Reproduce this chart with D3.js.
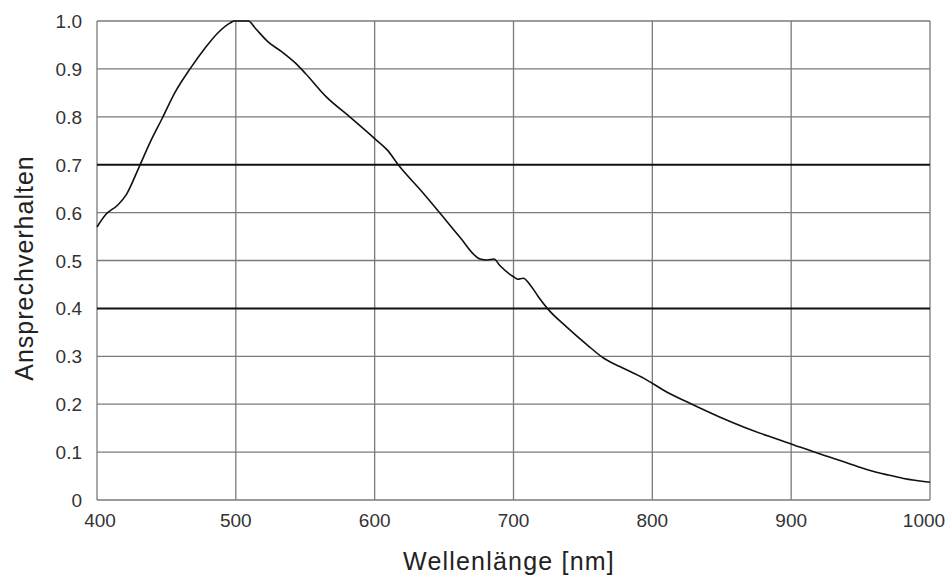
<!DOCTYPE html>
<html>
<head>
<meta charset="utf-8">
<script src="https://cdn.jsdelivr.net/npm/d3@7"></script>
<style>
  body { margin: 0; background: #fff; }
  text { font-family: "Liberation Sans", Arial, sans-serif; }
</style>
</head>
<body>
<div class="chart"></div>
<script>
// spectral response
const wavelengths = [400, 406, 415, 421, 430, 438, 447, 456, 467, 478, 487, 496, 499, 509, 514, 523,
  533, 543, 550, 565, 582, 601, 609, 618, 633, 647, 661, 676, 681, 686, 690, 700, 703, 707, 712, 718,
  725, 738, 753, 765, 777, 794, 810, 827, 848, 868, 885, 902, 923, 940, 955, 970, 981, 1000];
const response = [0.57, 0.595, 0.616, 0.637, 0.693, 0.745, 0.797, 0.85, 0.90, 0.944, 0.975, 0.996, 1.0, 1.0, 0.985, 0.957,
  0.936, 0.912, 0.891, 0.842, 0.80, 0.752, 0.731, 0.696, 0.647, 0.599, 0.55, 0.503, 0.501, 0.503, 0.49, 0.466, 0.461, 0.463, 0.449, 0.424,
  0.398, 0.362, 0.324, 0.296, 0.278, 0.254, 0.226, 0.202, 0.174, 0.15, 0.132, 0.115, 0.094, 0.078, 0.063, 0.052, 0.045, 0.037];
const xTicks = [400, 500, 600, 700, 800, 900, 1000];
const yTicks = [0, 0.1, 0.2, 0.3, 0.4, 0.5, 0.6, 0.7, 0.8, 0.9, 1.0];
const boldLines = [0.4, 0.7];

const width = 948, height = 581;
const margin = {top: 21, right: 18, bottom: 81, left: 97};

const svg = d3.select('.chart').append('svg')
  .attr('width', width).attr('height', height);

const x = d3.scaleLinear().domain([400, 1000]).range([margin.left, width - margin.right]);
const y = d3.scaleLinear().domain([0, 1]).range([height - margin.bottom, margin.top]);

// grid
svg.append('g').selectAll('line').data(xTicks).enter().append('line')
  .attr('x1', d => x(d)).attr('x2', d => x(d))
  .attr('y1', y(0)).attr('y2', y(1))
  .attr('stroke', '#7a7a7a').attr('stroke-width', 1.3);

svg.append('g').selectAll('line').data(yTicks).enter().append('line')
  .attr('x1', x(400)).attr('x2', x(1000))
  .attr('y1', d => y(d)).attr('y2', d => y(d))
  .attr('stroke', d => boldLines.includes(d) ? '#111' : '#7a7a7a')
  .attr('stroke-width', d => boldLines.includes(d) ? 2 : 1.3);

// tick labels
svg.append('g').selectAll('text').data(yTicks).enter().append('text')
  .attr('x', x(400) - 15).attr('y', d => y(d) + 7)
  .attr('text-anchor', 'end').attr('font-size', 19).attr('fill', '#333')
  .text(d => d === 0 ? '0' : d.toFixed(1));

svg.append('g').selectAll('text').data(xTicks).enter().append('text')
  .attr('x', d => x(d) + (d === 400 ? 3 : d === 1000 ? -6 : 0)).attr('y', y(0) + 27)
  .attr('text-anchor', 'middle').attr('font-size', 19).attr('fill', '#333')
  .text(d => d);

// curve
const line = d3.line()
  .x((d, i) => x(wavelengths[i]))
  .y(d => y(d))
  .curve(d3.curveMonotoneX);

svg.append('path').datum(response)
  .attr('fill', 'none').attr('stroke', '#111').attr('stroke-width', 1.6)
  .attr('d', line);

// axis titles
svg.append('text')
  .attr('x', 509).attr('y', 570)
  .attr('text-anchor', 'middle').attr('font-size', 25).attr('letter-spacing', 1.2).attr('fill', '#222')
  .text('Wellenlänge [nm]');

svg.append('text')
  .attr('transform', 'translate(33,268) rotate(-90)')
  .attr('text-anchor', 'middle').attr('font-size', 25).attr('letter-spacing', 1).attr('fill', '#222')
  .text('Ansprechverhalten');
</script>
</body>
</html>
